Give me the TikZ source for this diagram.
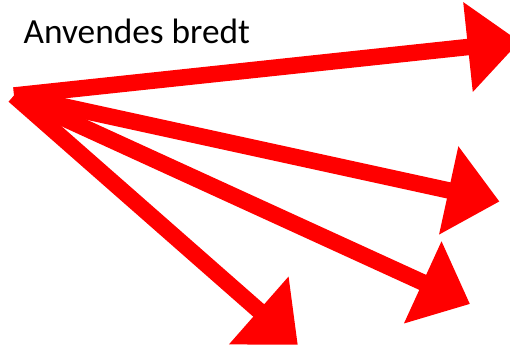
\documentclass[tikz,border=0pt]{standalone}
\usepackage{fontspec}
\setmainfont{Carlito}
\usetikzlibrary{arrows.meta}
\definecolor{arrowred}{RGB}{255,0,0}
\tikzset{
  bigarrow/.style={draw=arrowred, line width=16.5pt, line cap=butt,
    -{Triangle[width=87pt,length=52pt]}},
  title/.style={font=\fontsize{35.3}{40}\selectfont, inner sep=0pt, anchor=base west, text=black}
}
\begin{document}
\begin{tikzpicture}[x=1pt,y=-1pt]
  \useasboundingbox (0,0) rectangle (510,345);
  \clip (0,0) rectangle (510,345);
  \coordinate (o) at (14,95.5);
  \coordinate (t1) at (519.7,41.5);
  \coordinate (t2) at (499.5,201.5);
  \coordinate (t3) at (470,304);
  \coordinate (t4) at (297.8,344.8);
  \node[title] (lbl) at (23.5,43.5) {Anvendes bredt};
  \draw[bigarrow] (o) -- (t4);
  \draw[bigarrow] (o) -- (t3);
  \draw[bigarrow] (o) -- (t2);
  \draw[bigarrow] (o) -- (t1);
\end{tikzpicture}
\end{document}
